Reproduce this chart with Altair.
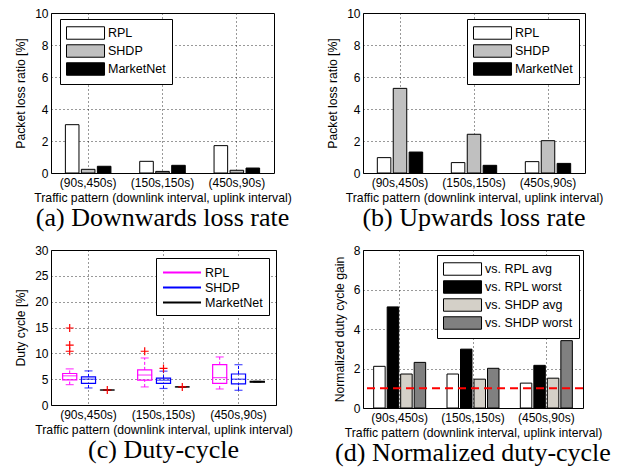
import altair as alt
import pandas as pd

patterns = ["(90s,450s)", "(150s,150s)", "(450s,90s)"]
protocols = ["RPL", "SHDP", "MarketNet"]

# (a) downwards loss rate [%]
down_rpl = [3.02, 0.73, 1.71]
down_shdp = [0.23, 0.10, 0.17]
down_mkt = [0.42, 0.48, 0.31]

# (b) upwards loss rate [%]
up_rpl = [0.96, 0.65, 0.71]
up_shdp = [5.29, 2.42, 2.02]
up_mkt = [1.31, 0.48, 0.60]

# (c) duty cycle box statistics [%]
duty_low = {"RPL": [3.96, 3.5, 3.1], "SHDP": [3.3, 3.2, 2.85], "MarketNet": [2.9, 3.5, 4.42]}
duty_q1 = {"RPL": [4.87, 4.8, 4.2], "SHDP": [4.2, 4.2, 4.1], "MarketNet": [2.9, 3.5, 4.42]}
duty_med = {"RPL": [5.65, 5.8, 5.3], "SHDP": [5.0, 4.8, 5.0], "MarketNet": [2.9, 3.5, 4.5]}
duty_q3 = {"RPL": [6.1, 6.8, 7.8], "SHDP": [5.45, 5.2, 6.0], "MarketNet": [2.9, 3.5, 4.58]}
duty_high = {"RPL": [7.0, 9.1, 9.3], "SHDP": [6.6, 6.55, 7.8], "MarketNet": [2.9, 3.5, 4.58]}
outlier_pattern = ["(90s,450s)", "(90s,450s)", "(90s,450s)", "(90s,450s)", "(150s,150s)", "(150s,150s)", "(150s,150s)"]
outlier_protocol = ["RPL", "RPL", "RPL", "MarketNet", "RPL", "SHDP", "MarketNet"]
outlier_value = [14.9, 11.6, 10.4, 2.9, 10.4, 7.08, 3.5]

# (d) normalized duty cycle gain
gain_series = ["vs. RPL avg", "vs. RPL worst", "vs. SHDP avg", "vs. SHDP worst"]
gain_rpl_avg = [2.11, 1.72, 1.26]
gain_rpl_worst = [5.12, 2.98, 2.16]
gain_shdp_avg = [1.72, 1.46, 1.51]
gain_shdp_worst = [2.31, 2.01, 3.41]
gain_reference = [1.0]

SANS = "Liberation Sans"
SERIF = "Liberation Serif"
RECT = "M-1,-0.83H4.07V0.83H-1Z"
LINE = "M-1,0H4.07"
PLUS = "M-1,0H1M0,-1V1"
XTITLE = "Traffic pattern (downlink interval, uplink interval)"


def long_df(names, values, field):
    rows = []
    for s, vals in zip(names, values):
        for p, v in zip(patterns, vals):
            rows.append({"pattern": p, field: s, "value": v})
    return pd.DataFrame(rows)


def x_enc():
    return alt.X(
        "pattern:N", sort=patterns,
        scale=alt.Scale(paddingInner=0, paddingOuter=0),
        axis=alt.Axis(title=XTITLE, labelAngle=0, grid=True, bandPosition=0.5,
                      ticks=False, domain=False, labelPadding=4, titlePadding=3),
    )


def y_enc(field, title, ymax, step):
    return alt.Y(
        f"{field}:Q", scale=alt.Scale(domain=[0, ymax], nice=False),
        axis=alt.Axis(title=title, values=list(range(0, ymax + 1, step)), grid=True,
                      ticks=False, domain=False, labelPadding=3, titlePadding=7,
                      format="d", labelOverlap=False, tickCount=len(range(0, ymax + 1, step))),
    )


def legend(lx, ly, stype, sw, **kw):
    return alt.Legend(
        title=None, orient="none", legendX=lx, legendY=ly, direction="vertical",
        strokeColor="black", fillColor="white", padding=6, cornerRadius=0,
        labelFont=SANS, labelFontSize=12.5, labelColor="black", labelOffset=26,
        symbolType=stype, symbolSize=225, symbolStrokeWidth=sw,
        symbolOpacity=1, rowPadding=0, **kw,
    )


def caption(text):
    return alt.TitleParams(text, orient="bottom", font=SERIF, fontSize=26,
                           fontWeight="normal", color="black", offset=2, anchor="middle")


def bar_panel(df, field, order, colors, ytitle, ymax, step, lx, ly, w, h, cap, pin, pout, ref=None):
    bars = alt.Chart(df).mark_bar(stroke="black", strokeWidth=1).encode(
        x=x_enc(),
        xOffset=alt.XOffset(f"{field}:N", sort=order,
                            scale=alt.Scale(paddingInner=pin, paddingOuter=pout)),
        y=y_enc("value", ytitle, ymax, step),
        color=alt.Color(f"{field}:N", sort=order,
                        scale=alt.Scale(domain=order, range=colors),
                        legend=legend(lx, ly, RECT, 1, symbolStrokeColor="black")),
    )
    layers = [bars]
    if ref is not None:
        layers.append(
            alt.Chart(pd.DataFrame({"value": ref})).mark_rule(
                color="red", strokeWidth=2, strokeDash=[8, 5]).encode(
                y=y_enc("value", ytitle, ymax, step))
        )
    return alt.layer(*layers).properties(width=w, height=h, title=caption(cap))


df_a = long_df(protocols, [down_rpl, down_shdp, down_mkt], "protocol")
df_b = long_df(protocols, [up_rpl, up_shdp, up_mkt], "protocol")
df_d = long_df(gain_series, [gain_rpl_avg, gain_rpl_worst, gain_shdp_avg, gain_shdp_worst], "series")

proto_colors = ["#ffffff", "#c0c0c0", "#000000"]
gain_colors = ["#ffffff", "#000000", "#d4d0c8", "#808080"]

panel_a = bar_panel(df_a, "protocol", protocols, proto_colors, "Packet loss ratio [%]",
                    10, 2, 9, 6, 223, 160, "(a) Downwards loss rate", 0.15, 0.9)
panel_b = bar_panel(df_b, "protocol", protocols, proto_colors, "Packet loss ratio [%]",
                    10, 2, 104, 6, 222, 160, "(b) Upwards loss rate", 0.15, 0.9)
panel_d = bar_panel(df_d, "series", gain_series, gain_colors, "Normalized duty cycle gain",
                    8, 2, 74, 5, 220, 158, "(d) Normalized duty-cycle", 0.15, 0.79, gain_reference)

# (c) box plot
rows = []
for proto in protocols:
    for i, p in enumerate(patterns):
        rows.append({"pattern": p, "protocol": proto,
                     "low": duty_low[proto][i], "q1": duty_q1[proto][i],
                     "med": duty_med[proto][i], "q3": duty_q3[proto][i],
                     "high": duty_high[proto][i]})
df_c = pd.DataFrame(rows)
df_out = pd.DataFrame({"pattern": outlier_pattern, "protocol": outlier_protocol, "value": outlier_value})

box_colors = ["#ff00ff", "#0000ff", "#000000"]
xoff = alt.XOffset("protocol:N", sort=protocols, scale=alt.Scale(paddingInner=0.25, paddingOuter=0.62))
col = alt.Color("protocol:N", sort=protocols, scale=alt.Scale(domain=protocols, range=box_colors),
                legend=legend(105, 8, LINE, 2))
col_nl = alt.Color("protocol:N", sort=protocols, scale=alt.Scale(domain=protocols, range=box_colors))
YT = "Duty cycle [%]"

base_c = alt.Chart(df_c)
box = base_c.mark_bar(filled=False, strokeWidth=1.2).encode(
    x=x_enc(), xOffset=xoff, y=y_enc("q1", YT, 30, 5), y2="q3:Q", color=col)
wlow = base_c.mark_rule(strokeWidth=1, strokeDash=[3, 2]).encode(
    x=x_enc(), xOffset=xoff, y=y_enc("low", YT, 30, 5), y2="q1:Q", color=col_nl)
whigh = base_c.mark_rule(strokeWidth=1, strokeDash=[3, 2]).encode(
    x=x_enc(), xOffset=xoff, y=y_enc("q3", YT, 30, 5), y2="high:Q", color=col_nl)
cap_low = base_c.mark_tick(size=8, thickness=1.2).encode(
    x=x_enc(), xOffset=xoff, y=y_enc("low", YT, 30, 5), color=col_nl)
cap_high = base_c.mark_tick(size=8, thickness=1.2).encode(
    x=x_enc(), xOffset=xoff, y=y_enc("high", YT, 30, 5), color=col_nl)
median = base_c.mark_tick(size=15, thickness=1.2).encode(
    x=x_enc(), xOffset=xoff, y=y_enc("med", YT, 30, 5), color=col_nl)
outl = alt.Chart(df_out).mark_point(shape=PLUS, filled=False, color="red", size=64,
                                    strokeWidth=1.2, opacity=1).encode(
    x=x_enc(), xOffset=xoff, y=y_enc("value", YT, 30, 5))

panel_c = alt.layer(box, wlow, whigh, cap_low, cap_high, median, outl).properties(
    width=225, height=155, title=caption("(c) Duty-cycle"))

res = dict(color="independent", x="independent", y="independent", xOffset="independent")
chart = alt.concat(
    panel_a, panel_b, panel_c, panel_d, columns=2, bounds="flush",
    spacing=alt.RowColnumber(row=77, column=87),
).resolve_scale(**res).resolve_legend(color="independent").properties(
    padding={"top": -2, "left": 6, "right": 0, "bottom": 0}
).configure_view(stroke="black", strokeWidth=1).configure_axis(
    labelFont=SANS, labelFontSize=12, labelColor="black", labelOverlap=False,
    titleFont=SANS, titleFontSize=12.2, titleFontWeight="normal", titleColor="black",
    gridColor="black", gridDash=[1, 3], gridOpacity=0.8, gridWidth=1)

chart.save("out.html", embed_options={"renderer": "svg", "actions": False})
